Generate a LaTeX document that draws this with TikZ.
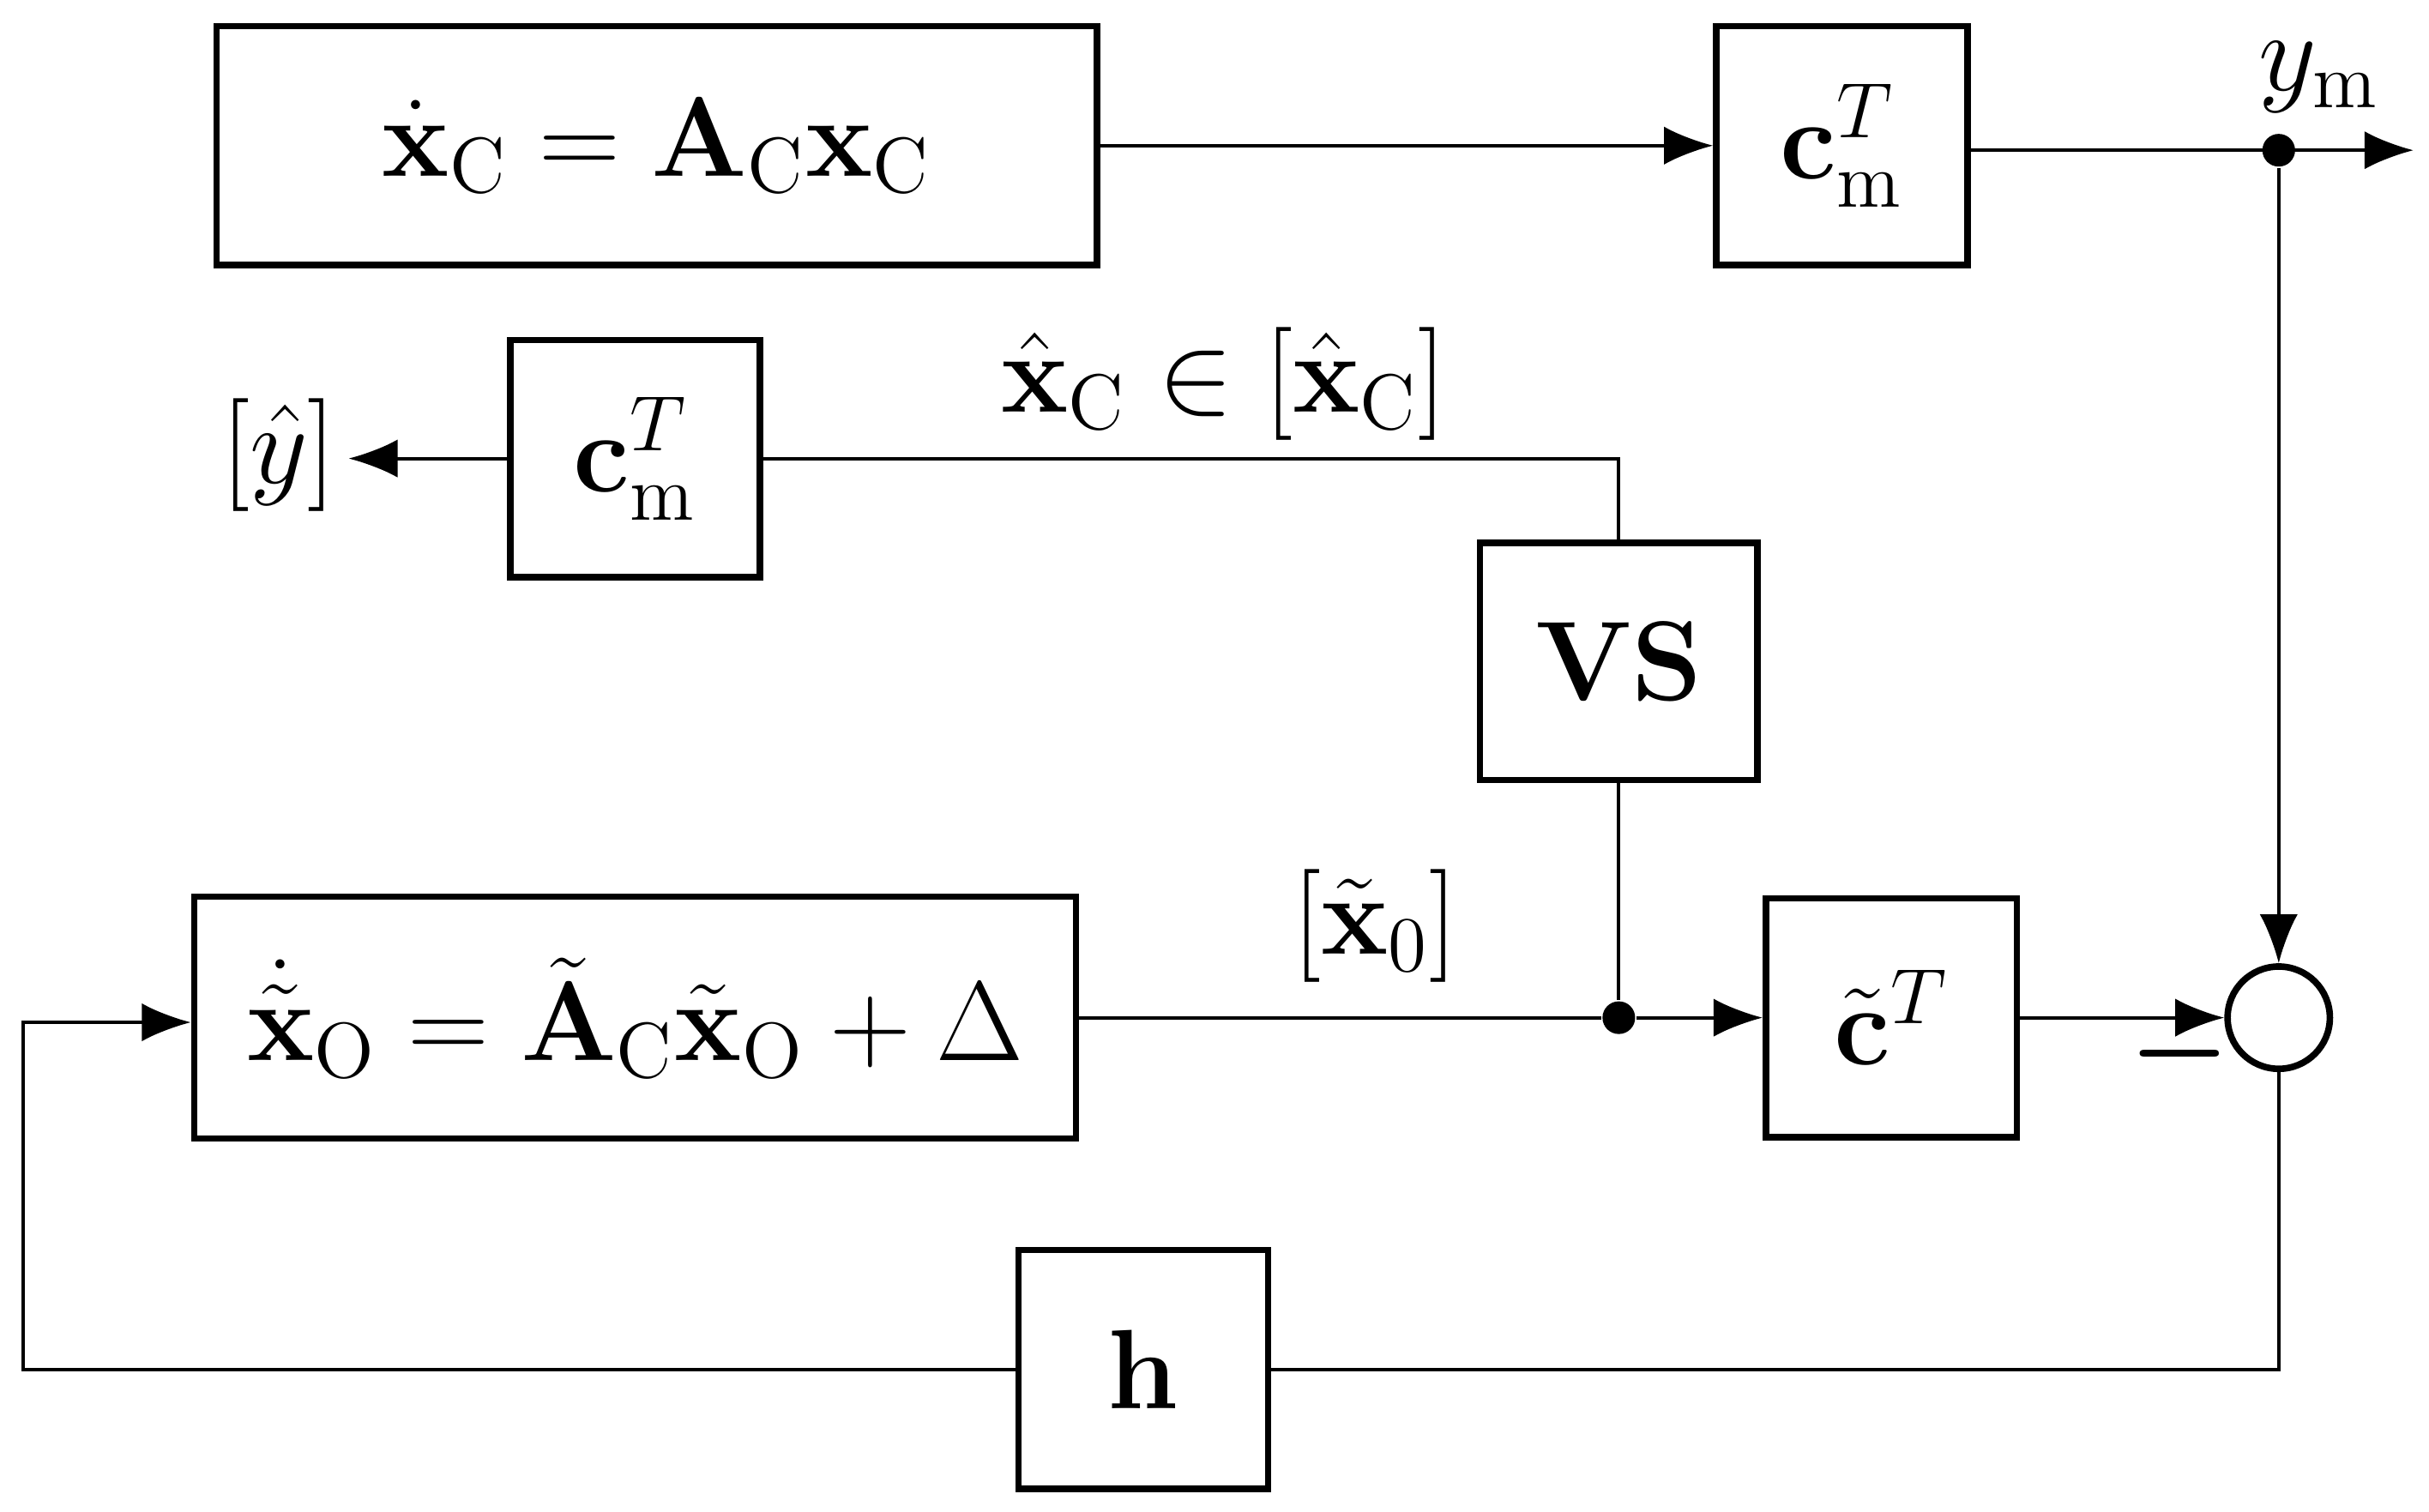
\documentclass[tikz,border=0pt]{standalone}
\usepackage{amsmath}
\usetikzlibrary{arrows.meta}
\begin{document}
\begin{tikzpicture}[x=0.01cm,y=-0.01cm,
  blk/.style={draw,line width=1.2pt,inner sep=0pt},
  con/.style={line width=0.6pt},
  arr/.style={con,-{Latex[length=9pt,width=7pt]}},
  dot/.style={circle,fill,inner sep=0pt,minimum size=6pt}]
\useasboundingbox (0,0) rectangle (1568,976);
\tikzset{every node/.append style={font=\fontsize{21.5}{26}\selectfont}}
\node[blk,minimum width=5.68cm,minimum height=1.54cm] (plant) at (424,94) {$\dot{\mathbf x}_{\mathrm C}=\mathbf A_{\mathrm C}\mathbf x_{\mathrm C}$};
\node[blk,minimum width=1.62cm,minimum height=1.54cm] (cm1) at (1189,94) {$\mathbf c_{\mathrm m}^T$};
\node[blk,minimum width=1.61cm,minimum height=1.53cm] (cm2) at (410,296) {$\mathbf c_{\mathrm m}^T$};
\node[blk,minimum width=1.79cm,minimum height=1.53cm] (vs) at (1045,427) {$\mathbf{VS}$};
\node[blk,minimum width=5.69cm,minimum height=1.56cm] (obs) at (410,657) {$\dot{\tilde{\mathbf x}}_{\mathrm O}=\tilde{\mathbf A}_{\mathrm C}\tilde{\mathbf x}_{\mathrm O}+\Delta$};
\node[blk,minimum width=1.62cm,minimum height=1.54cm] (ct) at (1221,657) {$\tilde{\mathbf c}^T$};
\node[blk,minimum width=1.61cm,minimum height=1.54cm] (h) at (738,884) {$\mathbf h$};
\node[draw,circle,line width=1.2pt,minimum size=0.66cm,inner sep=0pt] (sum) at (1471,657) {};
\node[dot] (d1) at (1471,97) {};
\node[dot] (d2) at (1045,657) {};
\coordinate (yout) at (1558,97);
\coordinate (yhat) at (225,296);
\coordinate (c1) at (1045,296);
\coordinate (c2) at (1471,884);
\coordinate (c3) at (15,884);
\coordinate (c4) at (15,660);
\draw[arr] (plant.east|-cm1.west) -- (cm1.west);
\draw[arr] (cm1.east|-d1) -- (yout);
\draw[arr] (cm2.west) -- (yhat);
\draw[con] (cm2.east) -- (c1) -- (vs.north);
\draw[con] (vs.south) -- (d2);
\draw[arr] (obs.east|-d2) -- (d2) -- (ct.west|-d2);
\draw[arr] (ct.east) -- (sum.west);
\draw[arr] (d1) -- (sum.north);
\draw[con] (sum.south) -- (c2) -- (h.east|-c2);
\draw[arr] (h.west) -- (c3) -- (c4) -- (obs.west|-c4);
\node at (1497,50) {$y_{\mathrm m}$};
\node at (180,294) {$[\hat y]$};
\node at (790,248) {$\hat{\mathbf x}_{\mathrm C}\in[\hat{\mathbf x}_{\mathrm C}]$};
\node at (888,598) {$[\tilde{\mathbf x}_0]$};
\node at (1407,680) {$\boldsymbol-$};
\end{tikzpicture}
\end{document}
